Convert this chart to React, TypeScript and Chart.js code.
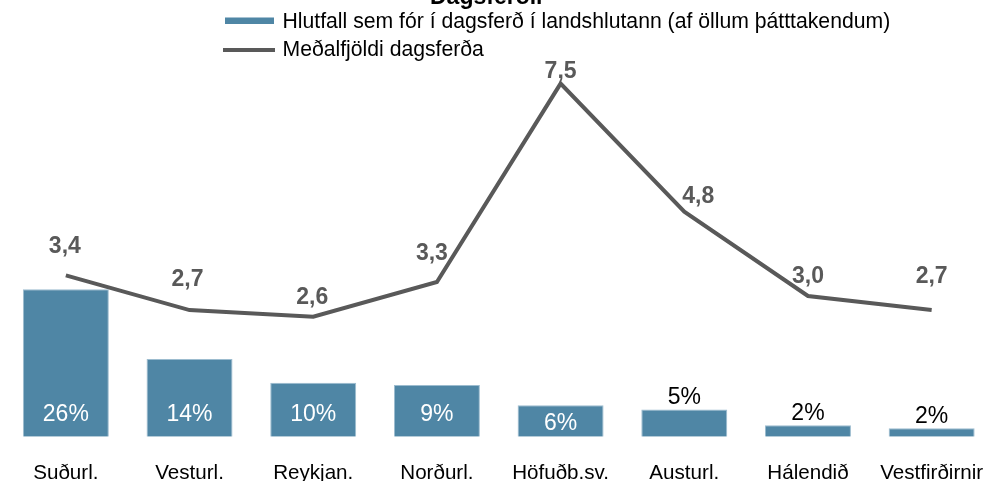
import React, { useEffect, useRef } from 'react';
import { Chart, registerables } from 'chart.js';

Chart.register(...registerables);

// ---------- data ----------
const chartTitle = 'Dagsferðir';
const categories = ['Suðurl.', 'Vesturl.', 'Reykjan.', 'Norðurl.', 'Höfuðb.sv.', 'Austurl.', 'Hálendið', 'Vestfirðirnir'];
const shareLabel = 'Hlutfall sem fór í dagsferð í landshlutann (af öllum þátttakendum)';
const shareValues = [26, 13.7, 9.5, 9.1, 5.55, 4.8, 2.0, 1.5];
const avgLabel = 'Meðalfjöldi dagsferða';
const avgValues = [3.44, 2.7, 2.56, 3.3, 7.53, 4.8, 3.0, 2.7];

// ---------- style ----------
const FONT = '"Liberation Sans", Arial, Helvetica, sans-serif';
const BAR_COLOR = '#4f86a5';
const BAR_EDGE = '#9cbccf';
const LINE_COLOR = '#595959';
// per-point nudge of the line's value labels (px, relative to the point)
const lineLabelNudge: [number, number][] = [
  [-1, -29], [-2, -30], [-1, -19], [-5, -28], [0, -12], [14, -15], [0, -19], [0, -33],
];

const fmtPct = (v: number) => Math.round(v) + '%';
const fmtDec = (v: number) => v.toFixed(1).replace('.', ',');

const decorPlugin = {
  id: 'decor',
  afterDatasetsDraw(chart: any) {
    const ctx = chart.ctx as CanvasRenderingContext2D;
    const barMeta = chart.getDatasetMeta(1);
    const lineMeta = chart.getDatasetMeta(0);
    ctx.save();
    // bar labels
    ctx.font = `23px ${FONT}`;
    ctx.textAlign = 'center';
    ctx.textBaseline = 'middle';
    barMeta.data.forEach((bar: any, i: number) => {
      const top = bar.y;
      const base = bar.base;
      const h = base - top;
      const txt = fmtPct(shareValues[i]);
      if (h >= 29) {
        ctx.fillStyle = '#ffffff';
        const y = h >= 45 ? base - 22 : (top + base) / 2 + 3;
        ctx.fillText(txt, bar.x, y);
      } else {
        ctx.fillStyle = '#000000';
        ctx.fillText(txt, bar.x, top - 12);
      }
    });
    // line labels
    ctx.font = `bold 23px ${FONT}`;
    ctx.fillStyle = LINE_COLOR;
    lineMeta.data.forEach((pt: any, i: number) => {
      const [dx, dy] = lineLabelNudge[i];
      ctx.fillText(fmtDec(avgValues[i]), pt.x + dx, pt.y + dy);
    });
    ctx.restore();
  },
  afterDraw(chart: any) {
    const ctx = chart.ctx as CanvasRenderingContext2D;
    ctx.save();
    // title
    ctx.font = `bold 23px ${FONT}`;
    ctx.fillStyle = '#000000';
    ctx.textAlign = 'center';
    ctx.textBaseline = 'alphabetic';
    ctx.fillText(chartTitle, 487.5, 4);
    // legend
    ctx.fillStyle = BAR_COLOR;
    ctx.fillRect(225, 17.5, 49, 6.5);
    ctx.strokeStyle = LINE_COLOR;
    ctx.lineWidth = 4;
    ctx.beginPath();
    ctx.moveTo(223, 50);
    ctx.lineTo(275, 50);
    ctx.stroke();
    ctx.font = `21.2px ${FONT}`;
    ctx.fillStyle = '#000000';
    ctx.textAlign = 'left';
    ctx.textBaseline = 'middle';
    ctx.fillText(shareLabel, 282.5, 22.5);
    ctx.fillText(avgLabel, 282.5, 50.5);
    ctx.restore();
  },
};

export default function App() {
  const ref = useRef<HTMLCanvasElement | null>(null);
  useEffect(() => {
    if (!ref.current) return;
    const chart = new Chart(ref.current, {
      type: 'bar',
      data: {
        labels: categories,
        datasets: [
          {
            type: 'line',
            label: avgLabel,
            data: avgValues,
            yAxisID: 'y1',
            borderColor: LINE_COLOR,
            backgroundColor: LINE_COLOR,
            borderWidth: 4,
            pointRadius: 0,
            tension: 0,
            order: 0,
          } as any,
          {
            type: 'bar',
            label: shareLabel,
            data: shareValues,
            yAxisID: 'y',
            backgroundColor: BAR_COLOR,
            borderColor: BAR_EDGE,
            borderWidth: { top: 1, left: 1, right: 1, bottom: 0 },
            barPercentage: 0.695,
            categoryPercentage: 1,
            order: 1,
          } as any,
        ],
      },
      options: {
        responsive: false,
        animation: false,
        devicePixelRatio: 1,
        layout: { padding: { left: 4, right: 6.5, top: 40, bottom: 0 } },
        plugins: {
          legend: { display: false },
          title: { display: false },
          tooltip: { enabled: false },
        },
        scales: {
          x: {
            offset: true,
            grid: { display: false, drawTicks: false },
            border: { display: false },
            ticks: {
              color: '#000000',
              font: { family: FONT, size: 20.6 },
              padding: 23.8,
              maxRotation: 0,
              autoSkip: false,
            },
            afterFit: (scale: any) => {
              scale.paddingLeft = 0;
              scale.paddingRight = 0;
            },
          },
          y: { display: false, min: 0, max: 70 },
          y1: { display: false, min: 0, max: 8.46, position: 'right' },
        },
      },
      plugins: [decorPlugin],
    });
    return () => chart.destroy();
  }, []);

  return (
    <div style={{ position: 'absolute', left: 0, top: 0, width: 989, height: 481, overflow: 'hidden', background: '#fff' }}>
      <canvas ref={ref} width={1000} height={509} style={{ display: 'block', width: 1000, height: 509 }} />
    </div>
  );
}
